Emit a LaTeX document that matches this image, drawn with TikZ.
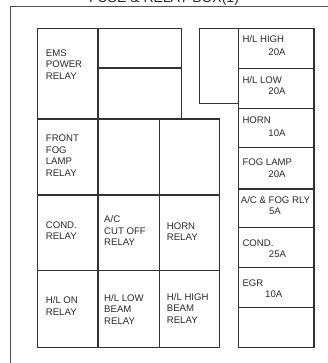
\documentclass[tikz,border=0pt]{standalone}
\usepackage{fontspec}
\setmainfont{Liberation Sans}
\definecolor{framecol}{RGB}{ 80, 80, 80}
\definecolor{cellcol} {RGB}{ 50, 50, 50}
\definecolor{textcol} {RGB}{ 40, 40, 40}

\begin{document}
\begin{tikzpicture}[
  % one unit = one pixel of the 327 x 363 sheet, y runs downwards
  x=1pt,y=-1pt,
  line join=miter,
  frame/.style={draw=framecol,line width=1.4pt},
  cell/.style={draw=cellcol,line width=1.2pt},
  relaylabel/.style={anchor=north west,inner sep=0pt,align=left,text=textcol,
    font=\fontsize{9.6}{11.5}\selectfont},
  fuselabel/.style={anchor=north west,inner sep=0pt,text=textcol,
    font=\fontsize{9.6}{11.5}\selectfont},
  amplabel/.style={inner sep=0pt,text=textcol,font=\fontsize{9.6}{11.5}\selectfont}
]
\useasboundingbox (0,0) rectangle (327,363);

% ---- sheet title and box outline (cut by the page) -----------------------
\node[anchor=base,inner sep=0pt,text=textcol,font=\fontsize{14}{16}\selectfont]
  (title) at (164,2.7) {FUSE \& RELAY BOX(1)};
\draw[frame] (10.7,400) -- (10.7,6.8) -- (360,6.8);

% ---- relay block ---------------------------------------------------------
\draw[cell] (37.7,28.3) rectangle (181.7,119);
\draw[cell] (98,28.3) -- (98,119);
\draw[cell] (98,68) -- (181.7,68);
\draw[cell] (37.7,119) rectangle (219.3,347.3);
\draw[cell] (98,119) -- (98,347.3);
\draw[cell] (159.3,119) -- (159.3,347.3);
\draw[cell] (37.7,195) -- (219.3,195);
\draw[cell] (37.7,270.7) -- (219.3,270.7);

% ---- fuse column ---------------------------------------------------------
\draw[cell] (238.3,28.3) -- (199.3,28.3) -- (199.3,103.3) -- (238.3,103.3);
\draw[cell] (238.3,28.3) rectangle (314,347.3);
\draw[cell] (238.3,68.3)  -- (314,68.3);
\draw[cell] (238.3,108.3) -- (314,108.3);
\draw[cell] (238.3,147.7) -- (314,147.7);
\draw[cell] (238.3,189)   -- (314,189);
\draw[cell] (238.3,227.3) -- (314,227.3);
\draw[cell] (238.3,267.3) -- (314,267.3);
\draw[cell] (238.3,307.7) -- (314,307.7);

% ---- relay names ---------------------------------------------------------
\node[relaylabel] (ems)    at (45.7,49.4)  {EMS\\POWER\\RELAY};
\node[relaylabel] (fogrly) at (45.7,134.7) {FRONT\\FOG\\LAMP\\RELAY};
\node[relaylabel] (condrly) at (45.7,221.4) {COND.\\RELAY};
\node[relaylabel] (acrly)  at (104,215.7)  {A/C\\CUT OFF\\RELAY};
\node[relaylabel] (hornrly) at (166.7,222.4) {HORN\\RELAY};
\node[relaylabel] (hlon)   at (45.7,296.4) {H/L ON\\RELAY};
\node[relaylabel] (hllow)  at (104,294.1)  {H/L LOW\\BEAM\\RELAY};
\node[relaylabel] (hlhigh) at (166.7,293.1) {H/L HIGH\\BEAM\\RELAY};

% ---- fuse names and ratings ----------------------------------------------
\node[fuselabel] (fhigh) at (242.3,35.4)  {H/L HIGH};
\node[amplabel]  (ahigh) at (277,52)      {20A};
\node[fuselabel] (flow)  at (242.3,76.4)  {H/L LOW};
\node[amplabel]  (alow)  at (277,91)      {20A};
\node[fuselabel] (fhorn) at (242.3,116.4) {HORN};
\node[amplabel]  (ahorn) at (277,132.7)   {10A};
\node[fuselabel] (ffog)  at (242.3,158.7) {FOG LAMP};
\node[amplabel]  (afog)  at (277,174)     {20A};
\node[fuselabel] (facfog) at (240.7,196.4) {A/C \& FOG RLY};
\node[amplabel]  (aacfog) at (275,211.7)  {5A};
\node[fuselabel] (fcond) at (242.3,239.1) {COND.};
\node[amplabel]  (acond) at (277.5,254)   {25A};
\node[fuselabel] (fegr)  at (242.3,279.1) {EGR};
\node[amplabel]  (aegr)  at (273.7,294.3) {10A};

\end{tikzpicture}
\end{document}
